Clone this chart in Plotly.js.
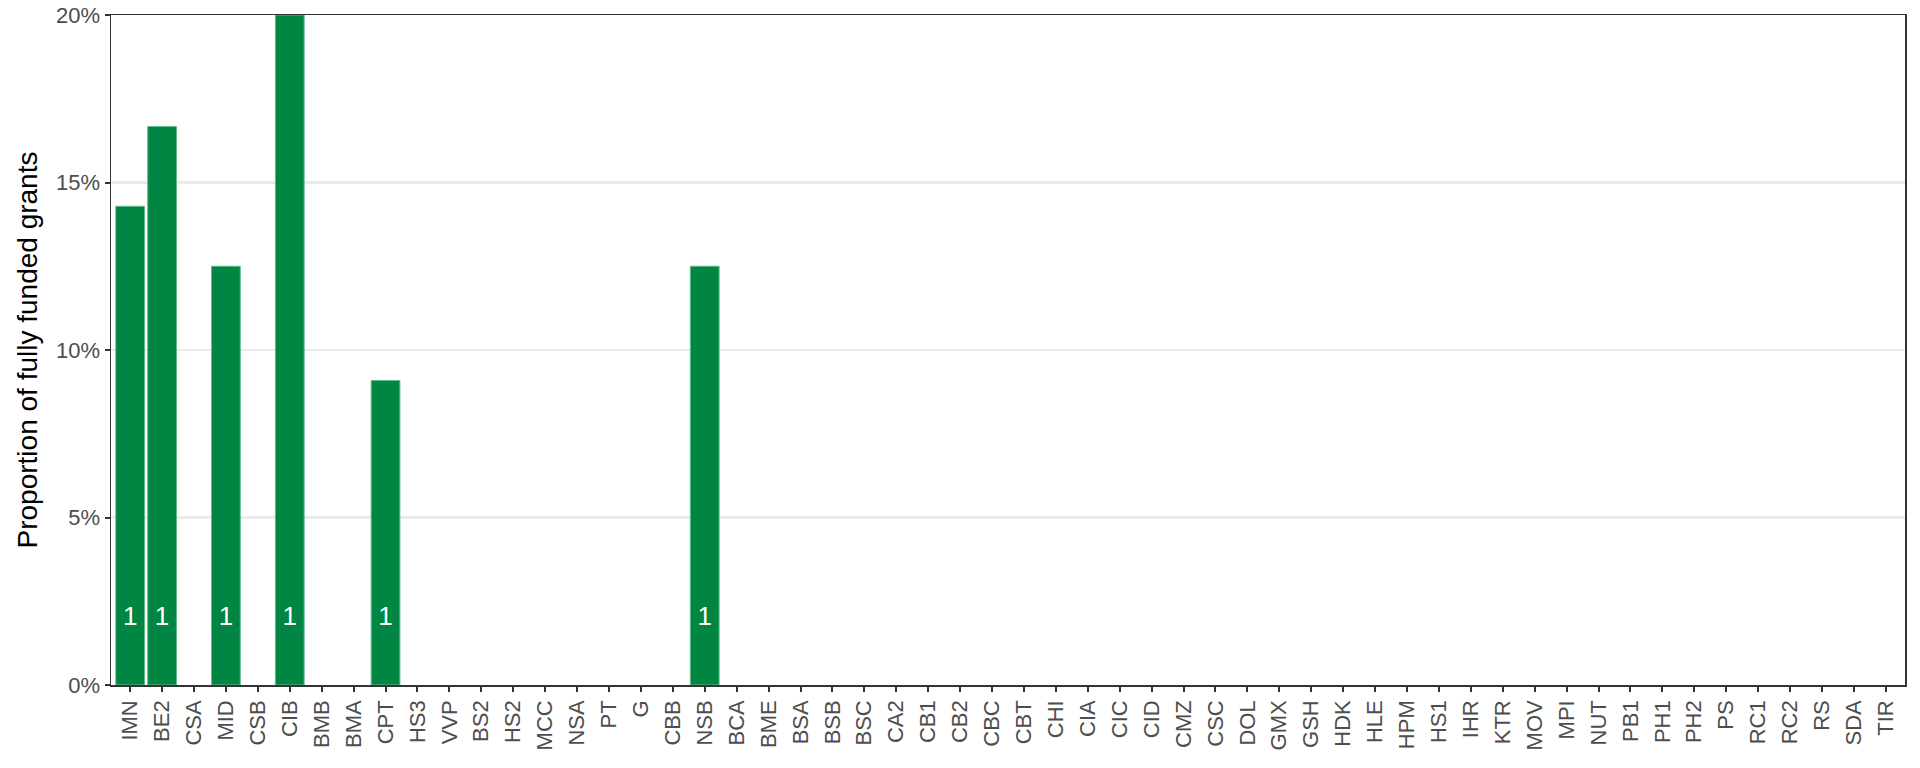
<!DOCTYPE html>
<html>
<head>
<meta charset="utf-8">
<script src="https://cdn.plot.ly/plotly-3.0.1.min.js"></script>
<style>html,body{margin:0;padding:0;background:#fff;}#chart{width:1920px;height:768px;}</style>
</head>
<body>
<div id="chart"></div>
<script>
const categories = ["IMN","BE2","CSA","MID","CSB","CIB","BMB","BMA","CPT","HS3","VVP","BS2","HS2","MCC","NSA","PT","G","CBB","NSB","BCA","BME","BSA","BSB","BSC","CA2","CB1","CB2","CBC","CBT","CHI","CIA","CIC","CID","CMZ","CSC","DOL","GMX","GSH","HDK","HLE","HPM","HS1","IHR","KTR","MOV","MPI","NUT","PB1","PH1","PH2","PS","RC1","RC2","RS","SDA","TIR"];
const proportions = [0.1429,0.1667,0,0.125,0,0.20,0,0,0.0909,0,0,0,0,0,0,0,0,0,0.125,0,0,0,0,0,0,0,0,0,0,0,0,0,0,0,0,0,0,0,0,0,0,0,0,0,0,0,0,0,0,0,0,0,0,0,0,0];
const fundedCounts = [1,1,0,1,0,1,0,0,1,0,0,0,0,0,0,0,0,0,1,0,0,0,0,0,0,0,0,0,0,0,0,0,0,0,0,0,0,0,0,0,0,0,0,0,0,0,0,0,0,0,0,0,0,0,0,0];
const labelY = 0.02;
const yTicks = [0,0.05,0.10,0.15,0.20];
const yTickText = ["0%","5%","10%","15%","20%"];

const labX = [], labY = [], labT = [];
categories.forEach((c,i)=>{ if(fundedCounts[i]>0){ labX.push(c); labY.push(labelY); labT.push(String(fundedCounts[i])); }});

const FONT = 'Liberation Sans, Arial, Helvetica, sans-serif';
const traces = [
  {type:'bar', x:categories, y:proportions.map(v => v > 0 ? v : null), width:0.9,
   marker:{color:'#008542', line:{color:'#5dbb86', width:1}}, hoverinfo:'skip'},
  {type:'scatter', mode:'text', x:labX, y:labY, text:labT,
   textfont:{color:'#ffffff', size:26, family:FONT}, hoverinfo:'skip', cliponaxis:false}
];

const axisFont = {family:FONT, size:22, color:'#4d4d4d'};
const layout = {
  width:1920, height:768,
  margin:{l:111, r:15, t:15, b:83, pad:0},
  paper_bgcolor:'#ffffff', plot_bgcolor:'#ffffff',
  showlegend:false, bargap:0.1,
  xaxis:{type:'category', categoryorder:'array', categoryarray:categories,
    range:[-0.6,55.6], tickangle:-90, tickfont:axisFont,
    ticks:'outside', ticklen:5, tickwidth:2, tickcolor:'#333333',
    showgrid:false, zeroline:false, showline:true, linecolor:'#333333', linewidth:1.5, mirror:true,
    automargin:false, fixedrange:true},
  yaxis:{range:[0,0.2], tickvals:yTicks, ticktext:yTickText, tickfont:axisFont,
    ticks:'outside', ticklen:5, tickwidth:2, tickcolor:'#333333',
    showgrid:true, gridcolor:'#ebebeb', gridwidth:2.2, zeroline:false,
    showline:true, linecolor:'#333333', linewidth:1.5, mirror:true,
    title:{text:'Proportion of fully funded grants', font:{family:FONT, size:28, color:'#000000'}, standoff:10},
    automargin:false, fixedrange:true},
  font:{family:FONT}
};
Plotly.newPlot('chart', traces, layout, {displayModeBar:false, staticPlot:true});
</script>
</body>
</html>
